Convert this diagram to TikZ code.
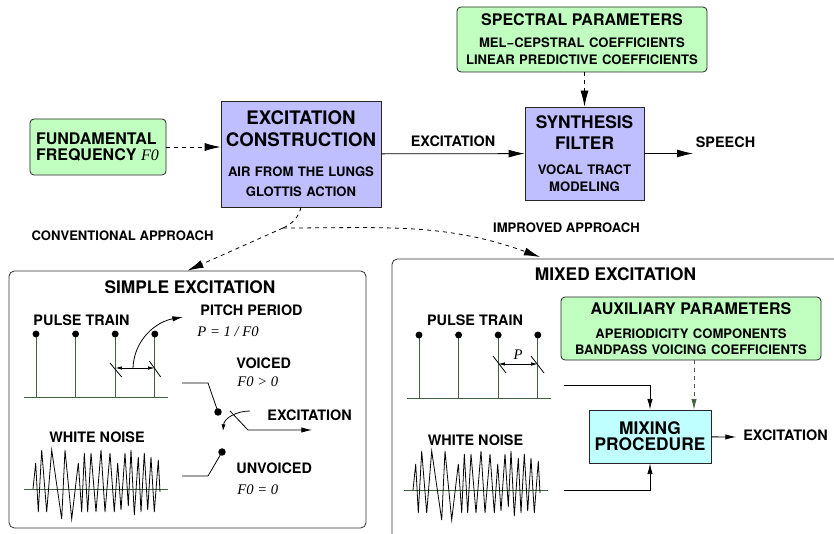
\documentclass[tikz,border=0pt]{standalone}
\usepackage{fontspec}
\setmainfont{TeX Gyre Heros}
\newfontfamily\timesit{Liberation Serif}
\usepackage{tikz}
\usetikzlibrary{arrows.meta}
\definecolor{boxgreen}{RGB}{192,255,192}
\definecolor{boxblue}{RGB}{191,191,255}
\definecolor{boxcyan}{RGB}{191,255,255}
\definecolor{stemgreen}{RGB}{64,96,64}
\newcommand{\varit}[1]{{\timesit\mdseries\itshape #1}}
\newcommand{\fbig}{\fontsize{14}{16.5}\selectfont}
\newcommand{\fpanel}{\fontsize{13}{15}\selectfont}
\newcommand{\fgreen}{\fontsize{12}{15.75}\selectfont}
\newcommand{\flabel}{\fontsize{10.8}{13}\selectfont}
\newcommand{\fsmall}{\fontsize{9.8}{12.75}\selectfont}
\tikzset{boxbase/.style={draw=black!85,align=center,inner sep=0pt},
greenbox/.style={boxbase,fill=boxgreen,rounded corners=3pt},
bluebox/.style={boxbase,fill=boxblue},cyanbox/.style={boxbase,fill=boxcyan},
panelbox/.style={draw=black!80,rounded corners=4pt},
pulses/.pic={\draw[stemgreen] (-12,0) -- (132,0);
  \foreach \k in {0,1,2,3}{\draw[stemgreen] (\k*39.6,0) -- (\k*39.6,-63);
  \fill (\k*39.6,-63) circle[radius=2.6pt];}},
noise/.pic={\draw[stemgreen] (-9,0) -- (135,0);
  \draw (0,0) -- (2.7,-26) -- (5.3,23) -- (8.7,-39) -- (13.7,23) -- (18.7,-39) -- (28.7,30) -- (32,-39) -- (38.7,30) -- (45.3,-26) -- (48.7,23) -- (51.3,-36) -- (54.7,23) -- (58,-36) -- (63,23) -- (68,-39) -- (72,23) -- (77,-36) -- (81.3,23) -- (84.7,-26) -- (88,21) -- (92,-36) -- (95.3,17) -- (98,-39) -- (101.3,26) -- (105.3,-32) -- (108,23) -- (111.3,-36) -- (114.7,21) -- (118,-32) -- (121.3,23) -- (125.3,-29) -- (127,3);}}

\begin{document}
\begin{tikzpicture}[x=0.75pt,y=-0.75pt,line width=0.6pt,>={Latex[length=12pt,width=6pt]},
every node/.style={font=\bfseries},lbl/.style={inner sep=0pt},
smallarr/.style={-{Latex[length=8pt,width=4pt]}},
curlarr/.style={-{Latex[length=5pt,width=3pt]}},
pdim/.style={{Latex[length=5pt,width=2.6pt]}-{Latex[length=5pt,width=2.6pt]}}]
\useasboundingbox (0,0) rectangle (834,534);

% top row
\node[greenbox,minimum width=102pt,minimum height=42pt,text width=93pt,align=left] (ff) at (98,147) {\fgreen FUNDAMENTAL\\FREQUENCY \varit{F0}};
\node[bluebox,minimum width=120pt,minimum height=79.5pt,text width=114pt] (exc) at (301,154) {\fbig EXCITATION\\CONSTRUCTION\par\vspace{7.5pt}\fontsize{9.8}{15}\selectfont AIR FROM THE LUNGS\\GLOTTIS ACTION\par};
\node[greenbox,minimum width=187.5pt,minimum height=48.75pt,text width=180pt] (spec) at (582,39.5) {\fgreen SPECTRAL PARAMETERS\par\vspace{3.75pt}\fsmall MEL−CEPSTRAL COEFFICIENTS\\LINEAR PREDICTIVE COEFFICIENTS\par};
\node[bluebox,minimum width=89.25pt,minimum height=69.75pt,text width=86pt] (synth) at (584.5,153.5) {\fontsize{13}{15.75}\selectfont SYNTHESIS\\FILTER\par\vspace{6pt}\fsmall VOCAL TRACT\\MODELING\par};
\coordinate (spout) at (693,153.5);
\node[lbl] (speech) at (725.5,142) {\flabel SPEECH};

\draw[dashed,->] (ff.east) -- (ff.east -| exc.west);
\draw[->] (exc) -- node[lbl,above=5pt] (exclbl) {\flabel EXCITATION} (synth);
\draw[dashed,->] (synth.north |- spec.south) -- (synth.north);
\draw[->] (synth) -- (spout);

% simple excitation
\node[panelbox,minimum width=267.75pt,minimum height=192.75pt] (simple) at (187.5,399.5) {};
\node[lbl] (simplettl) at (190,287) {\fpanel SIMPLE EXCITATION};
\node[lbl] (ptrain1) at (81.5,320) {\flabel PULSE TRAIN};
\pic at (36,397) {pulses};
\node[lbl] (noise1) at (97,437) {\flabel WHITE NOISE};
\pic at (33,489) {noise};
\draw (110,363) -- (121.7,377);
\draw (149.3,361) -- (160.7,377);
\draw[pdim] (115.2,368) -- (154.8,368);
\draw[smallarr] (133,368) to[out=88,in=190] (183,317);
\node[lbl,anchor=west] (pitch) at (200,310) {\flabel PITCH PERIOD};
\node[lbl,anchor=west] (pform) at (197,332) {\varit{\fontsize{11}{13}\selectfont P = 1 / F0}};
\draw (182,383) -- (208,383) -- (218,412);
\fill (218,412) circle[radius=2.8pt];
\draw (182,476) -- (208,476) -- (222,452);
\fill (222,452) circle[radius=2.8pt];
\draw[smallarr] (230,411) -- (248,430) -- (312,430);
\draw[curlarr] (250,411) to[out=180,in=85] (223,431);
\node[lbl,anchor=west] (voiced) at (236,363) {\flabel VOICED};
\node[lbl,anchor=west] (vcond) at (237,382) {\varit{\fontsize{11}{13}\selectfont F0 > 0}};
\node[lbl,anchor=west] (exc1) at (267,415) {\flabel EXCITATION};
\node[lbl,anchor=west] (unvoiced) at (236,468) {\flabel UNVOICED};
\node[lbl,anchor=west] (ucond) at (237,490) {\varit{\fontsize{11}{13}\selectfont F0 = 0}};

% mixed excitation
\draw[panelbox] (392,534) |- (834,259);
\coordinate (impr) at (540,257);
\node[lbl] (mixedttl) at (615.5,274) {\fpanel MIXED EXCITATION};
\node[greenbox,minimum width=195pt,minimum height=47.25pt,text width=190pt] (aux) at (691,328.5) {\fgreen AUXILIARY PARAMETERS\par\vspace{6pt}\fontsize{9.8}{12}\selectfont APERIODICITY COMPONENTS\\BANDPASS VOICING COEFFICIENTS\par};
\node[cyanbox,minimum width=91.5pt,minimum height=39.75pt,text width=89pt] (mix) at (650,436.5) {\fontsize{13}{16.5}\selectfont MIXING\\PROCEDURE};
\node[lbl] (ptrain2) at (475,320) {\flabel PULSE TRAIN};
\pic at (419,398) {pulses};
\node[lbl] (noise2) at (475.5,440) {\flabel WHITE NOISE};
\pic at (413,490) {noise};
\draw (493,356) -- (506,373);
\draw (531,356) -- (544,373);
\draw[pdim] (498.2,364) -- (537.8,364);
\node[lbl] (pmark) at (518,355) {\varit{\fontsize{11}{13}\selectfont P}};
\coordinate (pin) at (564,385);
\coordinate (nin) at (564,490);
\coordinate (mixout) at (736,437);
\draw[smallarr] (pin) -| (mix.north);
\draw[smallarr] (nin) -| (mix.south);
\draw[dashed,smallarr,stemgreen] ([xshift=2.25pt]aux.south) -- ([xshift=2.25pt]aux.south |- mix.north);
\draw[smallarr] (mix) -- (mixout);
\node[lbl] (exc2) at (785.5,435) {\flabel EXCITATION};

% approach branches
\coordinate (split) at (283,228);
\draw[dashed] (exc.south) to[out=-105,in=25] (split);
\draw[dashed,->] (split) -- (simple.north);
\draw[dashed,->] (split) to[out=0,in=160] (impr);
\node[lbl] (conv) at (122.5,236) {\fsmall CONVENTIONAL APPROACH};
\node[lbl] (improved) at (566.5,228) {\fsmall IMPROVED APPROACH};
\end{tikzpicture}
\end{document}
